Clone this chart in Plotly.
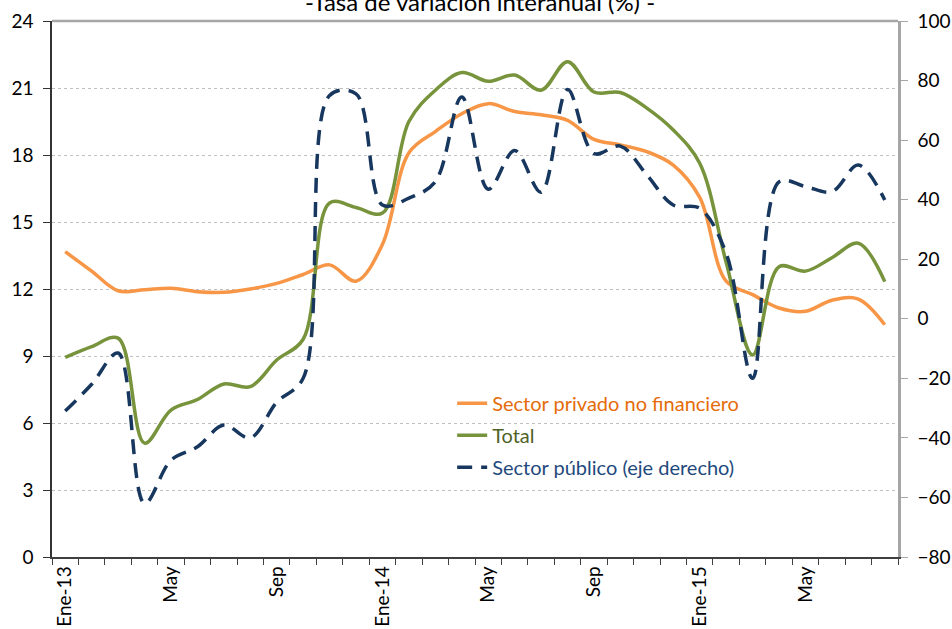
import plotly.graph_objects as go

months = ["Ene-13", "Feb-13", "Mar-13", "Abr-13", "May-13", "Jun-13", "Jul-13", "Ago-13",
          "Sep-13", "Oct-13", "Nov-13", "Dic-13", "Ene-14", "Feb-14", "Mar-14", "Abr-14",
          "May-14", "Jun-14", "Jul-14", "Ago-14", "Sep-14", "Oct-14", "Nov-14", "Dic-14",
          "Ene-15", "Feb-15", "Mar-15", "Abr-15", "May-15", "Jun-15", "Jul-15", "Ago-15"]

tick_labels = ["Ene-13", "", "", "", "May", "", "", "", "Sep", "", "", "",
               "Ene-14", "", "", "", "May", "", "", "", "Sep", "", "", "",
               "Ene-15", "", "", "", "May", "", "", ""]

privado = [13.67, 12.8, 11.92, 11.97, 12.03, 11.88, 11.85, 12.0, 12.25, 12.65, 13.08, 12.35,
           14.0, 18.1, 19.05, 19.85, 20.3, 19.95, 19.8, 19.55, 18.7, 18.45, 18.15, 17.55,
           16.1, 12.35, 11.75, 11.15, 11.0, 11.5, 11.55, 10.4]

total = [8.94, 9.42, 9.8, 5.1, 6.58, 7.05, 7.75, 7.63, 8.82, 9.75, 15.85, 15.65,
         15.4, 19.5, 20.9, 21.69, 21.3, 21.58, 20.9, 22.18, 20.82, 20.8, 20.1, 19.12,
         17.63, 13.2, 9.05, 13.0, 12.8, 13.4, 14.05, 12.33]

publico = [-31, -22, -11.5, -62, -47.5, -43, -35.7, -40, -28, -20, 75, 75.5,
           38.2, 40.5, 46.0, 74.5, 43.5, 56.5, 42.5, 77, 55.5, 58, 48.3, 38.2,
           37.1, 22, -20, 46, 44.4, 42.7, 51.6, 39.9]

FONT = "Lato"

fig = go.Figure()
fig.add_trace(go.Scatter(
    x=months, y=privado, mode="lines", line=dict(color="#F79646", width=3.5, shape="spline", smoothing=1.0),
    name="<span style='color:#E46C0A'>Sector privado no financiero</span>", legendgroup="a"))
fig.add_trace(go.Scatter(
    x=months, y=total, mode="lines", line=dict(color="#77933C", width=3.5, shape="spline", smoothing=1.0),
    name="<span style='color:#4F6228'>Total</span>", legendgroup="b"))
fig.add_trace(go.Scatter(
    x=months, y=publico, mode="lines", yaxis="y2",
    line=dict(color="#17375E", width=3.5, shape="spline", smoothing=1.0, dash="15px,9px"),
    name="<span style='color:#1F497D'>Sector público (eje derecho)</span>", legendgroup="c"))

fig.update_layout(
    width=952, height=629,
    margin=dict(l=52, r=54, t=21, b=72, autoexpand=False),
    paper_bgcolor="white", plot_bgcolor="white",
    font=dict(family=FONT, size=18, color="black"),
    showlegend=True,
    legend=dict(x=0.473, y=0.323, xanchor="left", yanchor="top", bgcolor="rgba(0,0,0,0)",
                font=dict(family=FONT, size=20), tracegroupgap=3, traceorder="grouped"),
    xaxis=dict(
        type="category", categoryorder="array", categoryarray=months, automargin=False,
        tickmode="array", tickvals=months, ticktext=tick_labels, tickangle=-90,
        tickson="boundaries", ticks="outside", ticklen=6, tickcolor="#404040",
        showline=True, linecolor="#404040", linewidth=1.5, showgrid=False,
        tickfont=dict(family=FONT, size=19), range=[-0.5, 31.5], zeroline=False),
    yaxis=dict(
        range=[0, 24], dtick=3, tick0=0, showline=True, linecolor="#333333", linewidth=1.5,
        ticks="outside", ticklen=7, tickcolor="#333333", ticklabelstandoff=6, automargin=False,
        showgrid=True, gridcolor="#BFBFBF", griddash="dot", gridwidth=1, zeroline=False,
        tickfont=dict(family=FONT, size=19)),
    yaxis2=dict(
        range=[-80, 100], dtick=20, tick0=-80, overlaying="y", side="right", automargin=False,
        showline=True, linecolor="#A6A6A6", linewidth=2.5,
        ticks="outside", ticklen=7, tickcolor="#A6A6A6", ticklabelstandoff=6,
        showgrid=False, zeroline=False, tickfont=dict(family=FONT, size=19)),
)

fig.add_shape(type="line", xref="paper", yref="paper", x0=0, x1=1, y0=1, y1=1,
              line=dict(color="#A6A6A6", width=2.5))

fig.add_annotation(text="-Tasa de variación interanual (%) -", xref="paper", yref="paper",
                   x=0.506, y=1, xanchor="center", yanchor="bottom", yshift=3, showarrow=False,
                   font=dict(family=FONT, size=24, color="black"))

fig.write_html("out.html", config={"displayModeBar": False},
               post_script="document.body.style.margin='0';document.body.style.padding='0';")
